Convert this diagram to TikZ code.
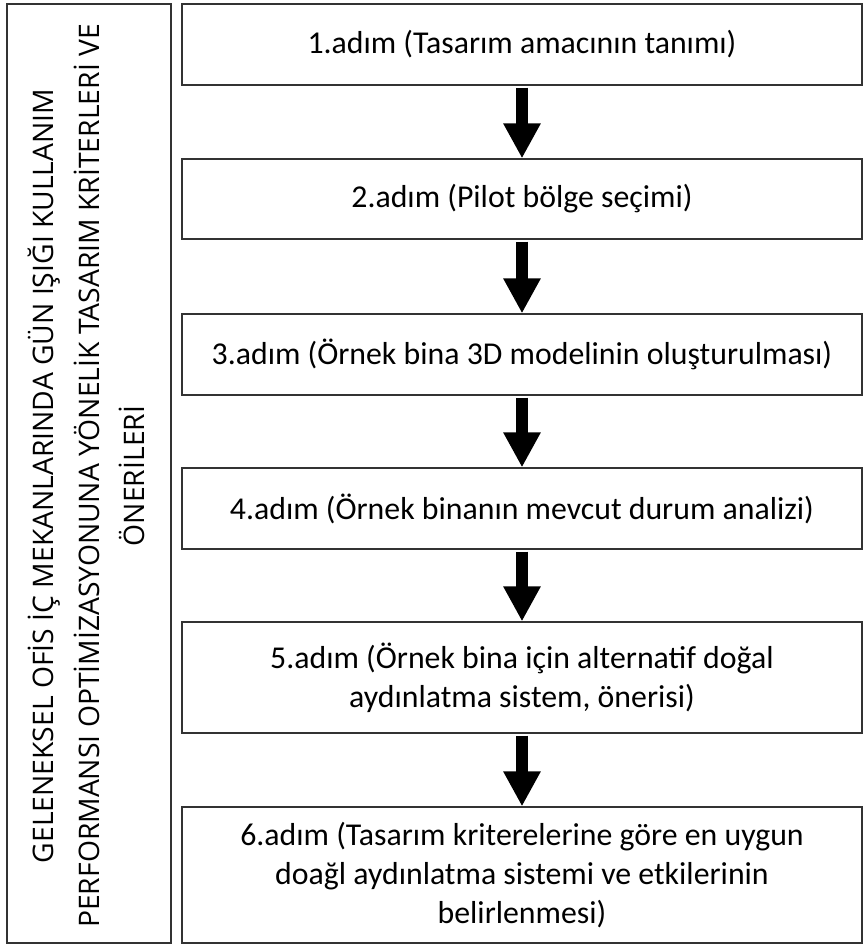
\documentclass[tikz,border=0pt]{standalone}
\usepackage{fontspec}
\setmainfont{Carlito}
\newfontfamily\titlefont{Open Sans}
\usepackage{tikz}
\usetikzlibrary{arrows.meta}
\usetikzlibrary{positioning}
\tikzset{stepbox/.style = {draw = black!80, line width = 0.7pt, minimum width = 13.6cm, align = center, inner sep = 0,
    font = \fontsize{18.1}{22}\selectfont},
  flowarrow/.style = {line width = 0.24cm, -{Triangle[width = 0.7cm, length = 0.7cm]}, shorten < = 0.04cm}}

\begin{document}
\begin{tikzpicture}
      \useasboundingbox (0, 0) rectangle (17.26, -18.98);
      \node [draw = black!80, line width = 0.7pt, minimum width = 3.28cm, minimum height = 18.78cm, inner sep = 0] (title) at (1.78, -9.47) {};
      \node [rotate = 90, align = center, font = \titlefont\fontsize{16.1}{26}\selectfont] (titletext) at ([xshift = -0.05cm, yshift = -0.05cm]title.center)
        {GELENEKSEL OFİS İÇ MEKANLARINDA GÜN IŞIĞI KULLANIM\\
         PERFORMANSI OPTİMİZASYONUNA YÖNELİK TASARIM KRİTERLERİ VE\\
         ÖNERİLERİ};
      \node [stepbox, minimum height = 1.62cm] (s1) at (10.44, -0.89) {1.adım (Tasarım amacının tanımı)};
      \node [stepbox, minimum height = 1.60cm] (s2) at (10.44, -3.98) {2.adım (Pilot bölge seçimi)};
      \node [stepbox, minimum height = 1.62cm] (s3) at (10.44, -7.09) {3.adım (Örnek bina 3D modelinin oluşturulması)};
      \node [stepbox, minimum height = 1.62cm] (s4) at (10.44, -10.17) {4.adım (Örnek binanın mevcut durum analizi)};
      \node [stepbox, minimum height = 2.22cm] (s5) at (10.44, -13.55) {5.adım (Örnek bina için alternatif doğal\\ aydınlatma sistem, önerisi)};
      \node [stepbox, minimum height = 2.72cm] (s6) at (10.44, -17.50) {6.adım (Tasarım kriterelerine göre en uygun\\ doağl aydınlatma sistemi ve etkilerinin\\ belirlenmesi)};
      \foreach \a/\b in {s1/s2, s2/s3, s3/s4, s4/s5, s5/s6}
        \draw [flowarrow] (\a.south) -- (\b.north);
    \end{tikzpicture}
\end{document}
